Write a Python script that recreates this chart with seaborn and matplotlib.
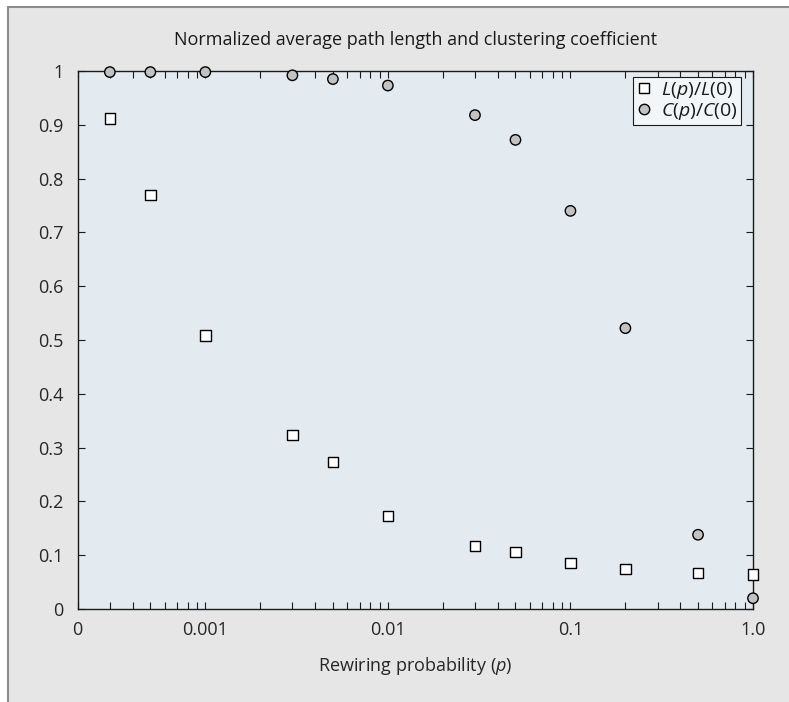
import numpy as np
import pandas as pd
import matplotlib
matplotlib.use("Agg")
import matplotlib.pyplot as plt
import seaborn as sns
from matplotlib.patches import Rectangle
from matplotlib.ticker import FixedLocator, FixedFormatter, LogLocator, NullFormatter

# --- DATA ---
p_values = [0.0003, 0.0005, 0.001, 0.003, 0.005, 0.01, 0.03, 0.05, 0.1, 0.2, 0.5, 1.0]
path_length = [0.912, 0.770, 0.508, 0.323, 0.273, 0.173, 0.117, 0.106, 0.086, 0.074, 0.067, 0.064]
clustering = [0.998, 0.998, 0.998, 0.992, 0.985, 0.973, 0.918, 0.872, 0.740, 0.522, 0.138, 0.020]

series_names = ["$L$($p$)/$L$(0)", "$C$($p$)/$C$(0)"]

x_ticks = [0.0002, 0.001, 0.01, 0.1, 1.0]
x_tick_labels = ["0", "0.001", "0.01", "0.1", "1.0"]
y_ticks = [0, 0.1, 0.2, 0.3, 0.4, 0.5, 0.6, 0.7, 0.8, 0.9, 1.0]
y_tick_labels = ["0", "0.1", "0.2", "0.3", "0.4", "0.5", "0.6", "0.7", "0.8", "0.9", "1"]

# --- STYLE ---
COLORS = {
    series_names[0]: "white",
    series_names[1]: "#c2c2c2",
}
MARKERS = {
    series_names[0]: "s",
    series_names[1]: "o",
}

sns.set_style("ticks")
plt.rcParams["font.family"] = ["Open Sans", "DejaVu Sans"]
plt.rcParams["mathtext.fontset"] = "custom"
plt.rcParams["mathtext.rm"] = "Open Sans"
plt.rcParams["mathtext.it"] = "Open Sans:italic"
plt.rcParams["text.color"] = "#1a1a1a"

df = pd.DataFrame({
    "p": p_values + p_values,
    "value": path_length + clustering,
    "series": [series_names[0]] * len(p_values) + [series_names[1]] * len(p_values),
})

fig = plt.figure(figsize=(7.89, 7.02), dpi=100)
fig.patch.set_facecolor("white")

# grey panel with a frame on top/left only (cut at right/bottom)
panel = Rectangle((8 / 789, -0.05), 1.1, 1 - 7 / 702 + 0.05, transform=fig.transFigure,
                  facecolor="#e6e6e6", edgecolor="#8c8c8c", linewidth=1.5, zorder=-1)
fig.add_artist(panel)

ax = fig.add_axes([77.7 / 789, 93 / 702, 675.3 / 789, 538 / 702])
ax.set_facecolor("#e3ebf1")

sns.scatterplot(data=df, x="p", y="value", hue="series", style="series",
                palette=COLORS, markers=MARKERS, s=56, edgecolor="black",
                linewidth=1.0, clip_on=False, zorder=3, ax=ax)

ax.set_xscale("log")
ax.set_xlim(x_ticks[0], x_ticks[-1])
ax.set_ylim(0, 1)

ax.xaxis.set_major_locator(FixedLocator(x_ticks))
ax.xaxis.set_major_formatter(FixedFormatter(x_tick_labels))
ax.xaxis.set_minor_locator(LogLocator(base=10, subs=np.arange(2, 10), numticks=30))
ax.xaxis.set_minor_formatter(NullFormatter())
ax.yaxis.set_major_locator(FixedLocator(y_ticks))
ax.yaxis.set_major_formatter(FixedFormatter(y_tick_labels))

ax.tick_params(which="both", direction="in", top=True, right=True,
               length=5, width=0.8, color="#1a1a1a", labelsize=13)
ax.tick_params(axis="x", pad=8.5)
ax.tick_params(axis="y", pad=10)

for side in ["left", "right", "top", "bottom"]:
    ax.spines[side].set_visible(True)
    ax.spines[side].set_linewidth(1.0)
    ax.spines[side].set_color("#1a1a1a")

ax.set_title("Normalized average path length and clustering coefficient", fontsize=13, pad=19)
ax.set_xlabel("Rewiring probability ($p$)", fontsize=13, labelpad=12)
ax.set_ylabel("")

handles, labels = ax.get_legend_handles_labels()
leg = ax.legend(handles, labels, loc="upper right", bbox_to_anchor=(0.982, 0.989),
                borderaxespad=0, fontsize=14, frameon=True, fancybox=False,
                framealpha=1, facecolor="#f3f6f8", edgecolor="#1a1a1a",
                borderpad=0.15, handlelength=0.8, handletextpad=0.5, labelspacing=0.0)
leg.get_frame().set_linewidth(0.8)

plt.savefig("out.png", dpi=100)
plt.close()
